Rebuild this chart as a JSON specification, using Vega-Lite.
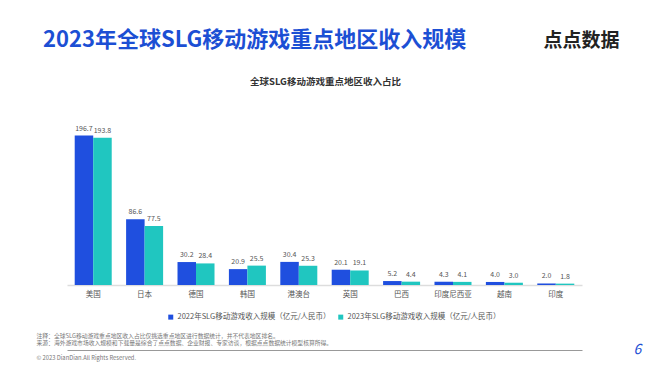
{
  "$schema": "https://vega.github.io/schema/vega-lite/v6.json",
  "width": 515,
  "height": 152,
  "autosize": {"type": "none"},
  "padding": {"left": 67, "top": 133, "right": 68, "bottom": 80},
  "background": "#ffffff",
  "config": {
    "view": {"stroke": null},
    "font": "Noto Sans CJK SC",
    "text": {"font": "Noto Sans CJK SC"}
  },
  "title": {
    "text": "2023年全球SLG移动游戏重点地区收入规模",
    "anchor": "start",
    "frame": "group",
    "dx": -24,
    "offset": -21,
    "fontSize": 22,
    "fontWeight": "bold",
    "font": "Noto Sans CJK SC",
    "color": "#1c4fd4"
  },
  "datasets": {
    "bars": [
      {"rank": 1, "series": "2022年SLG移动游戏收入规模（亿元/人民币）", "value": 196.7},
      {"rank": 1, "series": "2023年SLG移动游戏收入规模（亿元/人民币）", "value": 193.8},
      {"rank": 2, "series": "2022年SLG移动游戏收入规模（亿元/人民币）", "value": 86.6},
      {"rank": 2, "series": "2023年SLG移动游戏收入规模（亿元/人民币）", "value": 77.5},
      {"rank": 3, "series": "2022年SLG移动游戏收入规模（亿元/人民币）", "value": 30.2},
      {"rank": 3, "series": "2023年SLG移动游戏收入规模（亿元/人民币）", "value": 28.4},
      {"rank": 4, "series": "2022年SLG移动游戏收入规模（亿元/人民币）", "value": 20.9},
      {"rank": 4, "series": "2023年SLG移动游戏收入规模（亿元/人民币）", "value": 25.5},
      {"rank": 5, "series": "2022年SLG移动游戏收入规模（亿元/人民币）", "value": 30.4},
      {"rank": 5, "series": "2023年SLG移动游戏收入规模（亿元/人民币）", "value": 25.3},
      {"rank": 6, "series": "2022年SLG移动游戏收入规模（亿元/人民币）", "value": 20.1},
      {"rank": 6, "series": "2023年SLG移动游戏收入规模（亿元/人民币）", "value": 19.1},
      {"rank": 7, "series": "2022年SLG移动游戏收入规模（亿元/人民币）", "value": 5.2},
      {"rank": 7, "series": "2023年SLG移动游戏收入规模（亿元/人民币）", "value": 4.4},
      {"rank": 8, "series": "2022年SLG移动游戏收入规模（亿元/人民币）", "value": 4.3},
      {"rank": 8, "series": "2023年SLG移动游戏收入规模（亿元/人民币）", "value": 4.1},
      {"rank": 9, "series": "2022年SLG移动游戏收入规模（亿元/人民币）", "value": 4.0},
      {"rank": 9, "series": "2023年SLG移动游戏收入规模（亿元/人民币）", "value": 3.0},
      {"rank": 10, "series": "2022年SLG移动游戏收入规模（亿元/人民币）", "value": 2.0},
      {"rank": 10, "series": "2023年SLG移动游戏收入规模（亿元/人民币）", "value": 1.8}
    ],
    "regions": [
      {"rank": 1, "region": "美国"},
      {"rank": 2, "region": "日本"},
      {"rank": 3, "region": "德国"},
      {"rank": 4, "region": "韩国"},
      {"rank": 5, "region": "港澳台"},
      {"rank": 6, "region": "英国"},
      {"rank": 7, "region": "巴西"},
      {"rank": 8, "region": "印度尼西亚"},
      {"rank": 9, "region": "越南"},
      {"rank": 10, "region": "印度"}
    ]
  },
  "resolve": {"axis": {"x": "independent", "y": "independent"}},
  "layer": [
    {
      "data": {"name": "bars"},
      "mark": {"type": "bar"},
      "encoding": {
        "x": {
          "field": "rank", "type": "ordinal",
          "scale": {"paddingInner": 0.28, "paddingOuter": 0.15},
          "axis": {
            "orient": "bottom", "labels": false, "ticks": false,
            "domain": true, "domainColor": "#dddddd", "domainWidth": 1.5,
            "title": ["注释：全球SLG移动游戏重点地区收入占比仅挑选重点地区进行数据统计，并不代表地区排名。", "来源：海外游戏市场收入规模和下载量是综合了点点数据、企业财报、专家访谈，根据点点数据统计模型核算所得。"],
            "titleX": -31, "titleY": 47, "titleAlign": "left", "titleBaseline": "top",
            "titleFontSize": 5.8, "titleFontWeight": "normal", "titleColor": "#777777",
            "titleLineHeight": 7.5, "titleAngle": 0
          }
        },
        "xOffset": {
          "field": "series", "type": "nominal",
          "scale": {"paddingInner": 0, "paddingOuter": 0},
          "sort": ["2022年SLG移动游戏收入规模（亿元/人民币）", "2023年SLG移动游戏收入规模（亿元/人民币）"]
        },
        "y": {
          "field": "value", "type": "quantitative",
          "scale": {"domain": [0, 200], "nice": false, "zero": true},
          "axis": {
            "orient": "left", "labels": false, "ticks": false, "domain": false, "grid": false,
            "title": "6", "titleX": 570, "titleY": 216, "titleAngle": 0,
            "titleAlign": "center", "titleBaseline": "middle",
            "titleFontSize": 14, "titleFontStyle": "italic", "titleFontWeight": "normal",
            "titleColor": "#1c4fd4"
          }
        },
        "color": {
          "field": "series", "type": "nominal",
          "scale": {
            "domain": ["2022年SLG移动游戏收入规模（亿元/人民币）", "2023年SLG移动游戏收入规模（亿元/人民币）"],
            "range": ["#1f4fdf", "#20c6c0"]
          },
          "legend": {
            "orient": "none", "legendX": 100, "legendY": 180,
            "direction": "horizontal", "title": null,
            "symbolType": "square", "symbolSize": 25,
            "labelFontSize": 7.5, "labelColor": "#555555", "labelLimit": 300,
            "columnPadding": 6, "labelOffset": 3
          }
        }
      }
    },
    {
      "data": {"name": "bars"},
      "mark": {"type": "text", "baseline": "bottom", "dy": -4, "fontSize": 7, "color": "#555555"},
      "encoding": {
        "x": {
          "field": "rank", "type": "ordinal",
          "axis": {
            "orient": "top", "labels": false, "ticks": false, "domain": false,
            "title": "全球SLG移动游戏重点地区收入占比",
            "titleX": 258, "titleY": -52, "titleAlign": "center", "titleBaseline": "middle",
            "titleFontSize": 9.5, "titleFontWeight": "bold", "titleColor": "#333333"
          }
        },
        "xOffset": {
          "field": "series", "type": "nominal",
          "sort": ["2022年SLG移动游戏收入规模（亿元/人民币）", "2023年SLG移动游戏收入规模（亿元/人民币）"]
        },
        "y": {"field": "value", "type": "quantitative", "axis": null},
        "text": {"field": "value", "type": "quantitative", "format": ".1f"}
      }
    },
    {
      "data": {"name": "regions"},
      "mark": {"type": "text", "baseline": "top", "dy": 6, "fontSize": 7.5, "color": "#555555"},
      "encoding": {
        "x": {
          "field": "rank", "type": "ordinal",
          "axis": {
            "orient": "bottom", "offset": 65, "labels": false, "ticks": false,
            "domain": true, "domainColor": "#999999", "domainWidth": 1,
            "title": "© 2023 DianDian.All Rights Reserved.",
            "titleX": -31, "titleY": 7, "titleAlign": "left", "titleBaseline": "middle",
            "titleFontSize": 5.8, "titleFontWeight": "normal", "titleColor": "#777777"
          }
        },
        "y": {
          "datum": 0, "type": "quantitative",
          "axis": {
            "orient": "right", "labels": false, "ticks": false, "domain": false, "grid": false,
            "title": "点点数据", "titleX": -1, "titleY": -93, "titleAngle": 0,
            "titleAlign": "center", "titleBaseline": "middle",
            "titleFontSize": 19, "titleFontWeight": "bold", "titleColor": "#222222"
          }
        },
        "text": {"field": "region", "type": "nominal"}
      }
    }
  ]
}
